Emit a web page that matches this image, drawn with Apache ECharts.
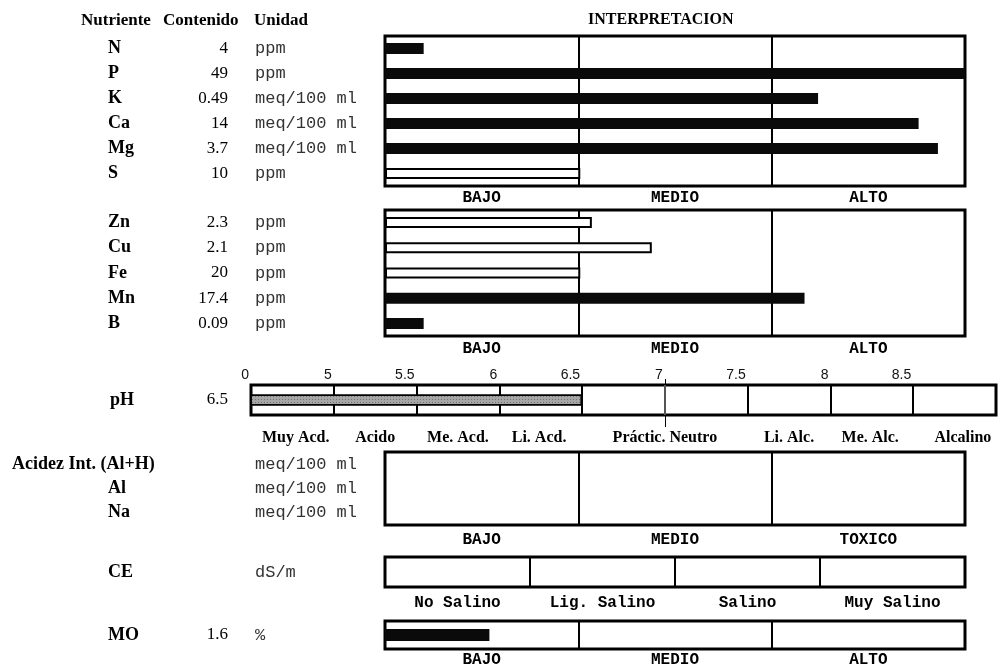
<!DOCTYPE html>
<html><head><meta charset="utf-8">
<script src="https://cdn.jsdelivr.net/npm/echarts@6/dist/echarts.min.js"></script>
<style>html,body{margin:0;padding:0;background:#fff}#c{width:998px;height:666px}</style>
</head><body><div id="c"></div>
<script>
// ---------- data ----------
const nutrients1 = ['N', 'P', 'K', 'Ca', 'Mg', 'S'];
const contents1  = ['4', '49', '0.49', '14', '3.7', '10'];
const units1     = ['ppm', 'ppm', 'meq/100 ml', 'meq/100 ml', 'meq/100 ml', 'ppm'];
// bar end on the interpretation scale (0-1 BAJO, 1-2 MEDIO, 2-3 ALTO)
const levels1    = [0.20, 3.0, 2.24, 2.76, 2.86, 1.01];

const nutrients2 = ['Zn', 'Cu', 'Fe', 'Mn', 'B'];
const contents2  = ['2.3', '2.1', '20', '17.4', '0.09'];
const units2     = ['ppm', 'ppm', 'ppm', 'ppm', 'ppm'];
const levels2    = [1.07, 1.38, 1.01, 2.17, 0.20];

const classes3   = ['BAJO', 'MEDIO', 'ALTO'];
const classesTox = ['BAJO', 'MEDIO', 'TOXICO'];

const acidezNames = ['Acidez Int. (Al+H)', 'Al', 'Na'];
const acidezUnits = ['meq/100 ml', 'meq/100 ml', 'meq/100 ml'];

const ceNames = ['CE'];
const ceUnits = ['dS/m'];
const salClasses = ['No Salino', 'Lig. Salino', 'Salino', 'Muy Salino'];

const moNames = ['MO'];
const moContents = ['1.6'];
const moUnits = ['%'];
const moLevels = [0.54];

const phNames = ['pH'];
const phContents = ['6.5'];
const phValues = [6.5];
const phMin = 4.5, phMax = 9, phStep = 0.5;          // first cell is drawn as "0"-5
const phTickLabels = {4.5: '0', 5: '5', 5.5: '5.5', 6: '6', 6.5: '6.5', 7: '7', 7.5: '7.5', 8: '8', 8.5: '8.5'};
const phClasses = ['Muy Acd.', 'Acido', 'Me. Acd.', 'Li. Acd.', 'Práctic. Neutro', 'Li. Alc.', 'Me. Alc.', 'Alcalino'];
const phClassCenters = [4.77, 5.25, 5.75, 6.24, 7.0, 7.75, 8.24, 8.8];
const phNeutral = [7];

// rows drawn as outlined (hollow) bars
const hollowRows = ['S', 'Zn', 'Cu', 'Fe'];

// ---------- chart ----------
const SERIF = 'Liberation Serif', MONO = 'Liberation Mono', SANS = 'Liberation Sans';
const NAME_X = 108, CONTENT_RIGHT = 228, UNIT_X = 255;
const grids = [], xAxes = [], yAxes = [], series = [];
const noLine = {show: false};

function gridBox(left, top, width, height) {
  grids.push({left: left, top: top, width: width, height: height, outerBoundsMode: 'none', containLabel: false,
    show: true, borderColor: '#000', borderWidth: 3, backgroundColor: 'transparent'});
  return grids.length - 1;
}

function rowAxes(gi, left, rows, contents, units, nameMargin) {
  const main = yAxes.length;
  const base = {type: 'category', gridIndex: gi, data: rows, inverse: true, position: 'left', offset: 0,
    axisLine: noLine, axisTick: noLine, splitLine: noLine};
  yAxes.push(Object.assign({}, base, {
    axisLabel: {interval: 0, margin: nameMargin !== undefined ? nameMargin : left - NAME_X, align: 'left',
      fontFamily: SERIF, fontWeight: 'bold', fontSize: 18, color: '#000'}}));
  if (contents) yAxes.push(Object.assign({}, base, {
    axisLabel: {interval: 0, margin: left - CONTENT_RIGHT, align: 'right',
      formatter: (v, i) => contents[i], fontFamily: SERIF, fontSize: 17, color: '#000'}}));
  if (units) yAxes.push(Object.assign({}, base, {
    axisLabel: {interval: 0, margin: left - UNIT_X, align: 'left',
      formatter: (v, i) => units[i], fontFamily: MONO, fontSize: 17, color: '#333'}}));
  return main;
}

function addSection(cfg) {
  const gi = gridBox(cfg.left, cfg.top, cfg.width, cfg.height);
  const n = cfg.classes.length;
  const xv = xAxes.length;
  xAxes.push({type: 'value', gridIndex: gi, min: 0, max: n, interval: 1, position: 'bottom',
    axisLine: noLine, axisTick: noLine, axisLabel: noLine,
    splitLine: {show: true, lineStyle: {color: '#000', width: 2}}});
  xAxes.push({type: 'category', gridIndex: gi, data: cfg.classes, position: 'bottom', offset: 0,
    axisLine: noLine, axisTick: noLine, splitLine: noLine,
    axisLabel: {interval: 0, margin: cfg.labelMargin, fontFamily: MONO, fontWeight: 'bold', fontSize: 16, color: '#000'}});
  const yv = rowAxes(gi, cfg.left, cfg.rows, cfg.contents, cfg.units, cfg.nameMargin);
  if (cfg.extraNames) {
    yAxes[yv].axisLabel.formatter = (v, i) => (i === 0 ? v : '');
    yAxes.push({type: 'category', gridIndex: gi, data: cfg.rows, inverse: true, position: 'left', offset: 0,
      axisLine: noLine, axisTick: noLine, splitLine: noLine,
      axisLabel: {interval: 0, margin: cfg.left - NAME_X, align: 'left',
        formatter: (v, i) => (i === 0 ? '' : v),
        fontFamily: SERIF, fontWeight: 'bold', fontSize: 18, color: '#000'}});
  }
  if (cfg.levels) {
    series.push({type: 'bar', xAxisIndex: xv, yAxisIndex: yv, barWidth: cfg.barWidth || 11,
      silent: true, animation: false,
      data: cfg.levels.map((v, i) => ({value: v,
        itemStyle: hollowRows.includes(cfg.rows[i])
          ? {color: '#fff', borderColor: '#000', borderWidth: 2}
          : {color: '#0a0a0a'}}))});
  }
}

// section 1: macro nutrients
addSection({left: 385, top: 36, width: 580, height: 150, classes: classes3,
  rows: nutrients1, contents: contents1, units: units1, levels: levels1, labelMargin: 4});
// section 2: micro nutrients
addSection({left: 385, top: 210, width: 580, height: 126, classes: classes3,
  rows: nutrients2, contents: contents2, units: units2, levels: levels2, labelMargin: 5});

// pH
(function () {
  const left = 251;
  const gi = gridBox(left, 385, 745, 30);
  const xv = xAxes.length;
  const nLines = Math.round((phMax - phMin) / phStep) + 1;
  const lineColors = [];
  for (let k = 0; k < nLines; k++) lineColors.push(Math.abs(phMin + k * phStep - 7) < 1e-9 ? '#555' : '#000');
  // main value axis: tick numbers on top, cell borders
  xAxes.push({type: 'value', gridIndex: gi, position: 'top', offset: 0, min: phMin, max: phMax, interval: phStep,
    axisLine: noLine, axisTick: noLine,
    axisLabel: {show: true, margin: 3, align: 'right', padding: [0, 2, 0, 0], showMaxLabel: false,
      formatter: v => (phTickLabels[v] !== undefined ? phTickLabels[v] : ''),
      fontFamily: SANS, fontSize: 14, color: '#111'},
    splitLine: {show: true, lineStyle: {color: lineColors, width: 2}}});
  // class names below, with the neutral mark
  xAxes.push({type: 'value', gridIndex: gi, position: 'bottom', offset: 0, min: phMin, max: phMax,
    axisLine: noLine, splitLine: noLine,
    axisTick: {show: true, customValues: phNeutral, length: 12, inside: false, lineStyle: {color: '#000', width: 1}},
    axisLabel: {show: true, margin: 15, customValues: phClassCenters,
      formatter: v => { const i = phClassCenters.findIndex(c => Math.abs(c - v) < 1e-9); return i >= 0 ? phClasses[i] : ''; },
      fontFamily: SERIF, fontWeight: 'bold', fontSize: 16, color: '#000'}});
  // neutral mark above the box
  xAxes.push({type: 'value', gridIndex: gi, position: 'top', offset: 0, min: phMin, max: phMax,
    axisLine: noLine, splitLine: noLine, axisLabel: noLine,
    axisTick: {show: true, customValues: phNeutral, length: 6, inside: false, lineStyle: {color: '#000', width: 1}}});
  const yv = rowAxes(gi, left, phNames, phContents, null, left - 110);
  series.push({type: 'bar', xAxisIndex: xv, yAxisIndex: yv, barWidth: 11, clip: true,
    silent: true, animation: false,
    itemStyle: {color: '#a6a6a6', borderColor: '#000', borderWidth: 1.5,
      decal: {symbol: 'rect', symbolSize: 1, dashArrayX: [1, 2], dashArrayY: [1, 2], color: 'rgba(70,70,70,0.55)', rotation: 0}},
    data: phValues});
})();

// Acidez / Al / Na
addSection({left: 385, top: 452, width: 580, height: 73, classes: classesTox,
  rows: acidezNames, contents: null, units: acidezUnits, labelMargin: 7,
  nameMargin: 385 - 12, extraNames: true});
// CE
addSection({left: 385, top: 557, width: 580, height: 30, classes: salClasses,
  rows: ceNames, contents: null, units: ceUnits, labelMargin: 8});
// MO
addSection({left: 385, top: 621, width: 580, height: 28, classes: classes3,
  rows: moNames, contents: moContents, units: moUnits, levels: moLevels, labelMargin: 3, barWidth: 12});

const titleStyle = {fontFamily: SERIF, fontWeight: 'bold', fontSize: 17, color: '#000'};
const chart = echarts.init(document.getElementById('c'), null, {renderer: 'canvas'});
chart.setOption({
  backgroundColor: '#fff',
  animation: false,
  title: [
    {text: 'Nutriente', left: 81, top: 12, padding: 0, textStyle: titleStyle},
    {text: 'Contenido', left: 163, top: 12, padding: 0, textStyle: titleStyle},
    {text: 'Unidad', left: 254, top: 12, padding: 0, textStyle: titleStyle},
    {text: 'INTERPRETACION', left: 588, top: 12, padding: 0, textStyle: Object.assign({}, titleStyle, {fontSize: 16})}
  ],
  grid: grids,
  xAxis: xAxes,
  yAxis: yAxes,
  series: series
});
</script>
</body></html>
